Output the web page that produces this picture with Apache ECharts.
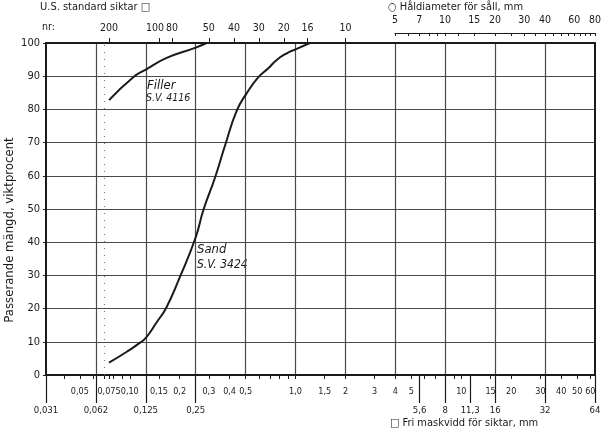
<!DOCTYPE html>
<html>
<head>
<meta charset="utf-8">
<script src="https://cdn.jsdelivr.net/npm/echarts@6/dist/echarts.min.js"></script>
<style>
  html, body { margin: 0; padding: 0; background: #fff; }
  #chart { width: 602px; height: 432px; }
</style>
</head>
<body>
<div id="chart"></div>
<script>
// kornfördelning: filler och sand, logaritmisk skala (bas 2)
const gridLineMm = [0.0625, 0.125, 0.25, 0.5, 1, 2, 4, 8, 16, 32];

// nedre skala, rad 1 (närmast axeln)
const nearRowMm = [0.05, 0.075, 0.1, 0.15, 0.2, 0.3, 0.4, 0.5, 1, 1.5, 2, 3, 4, 5, 10, 15, 20, 30, 40, 50, 60];
const nearRowText = ['0,05', '0,075', '0,10', '0,15', '0,2', '0,3', '0,4', '0,5', '1,0', '1,5', '2', '3', '4', '5',
  '10', '15', '20', '30', '40', '50', '60'];
const minorTickMm = [0.04, 0.05, 0.06, 0.07, 0.075, 0.08, 0.09, 0.1, 0.15, 0.2, 0.3, 0.4, 0.5, 0.6, 0.7, 0.8, 0.9,
  1, 1.5, 2, 3, 4, 5, 6, 7, 8, 9, 10, 15, 20, 30, 40, 50, 60];

// nedre skala, rad 2: fri maskvidd för siktar
const farRowMm = [0.03125, 0.0625, 0.125, 0.25, 5.6, 8, 11.3, 16, 32, 64];
const farRowText = ['0,031', '0,062', '0,125', '0,25', '5,6', '8', '11,3', '16', '32', '64'];

// U.S. standard siktar (nr -> mm)
const sieveMm = [0.075, 0.15, 0.18, 0.3, 0.425, 0.6, 0.85, 1.18, 2.0];
const sieveNo = ['200', '{l|100}', '80', '50', '40', '30', '20', '16', '10'];

// håldiameter för såll
const holeMm = [5, 7, 10, 15, 20, 30, 40, 60, 80];
const holeTickMm = [5, 6, 7, 8, 9, 10, 12, 15, 20, 25, 30, 35, 40, 45, 50, 55, 60, 65, 70, 75, 80];

// kurvor
const fillerMm = [0.075, 0.105, 0.125, 0.167, 0.25, 0.29];
const fillerPct = [82.8, 89.7, 92, 95.5, 98.6, 100];
const sandMm = [0.075, 0.096, 0.11, 0.125, 0.145, 0.167, 0.201, 0.25, 0.278, 0.327, 0.376, 0.442, 0.508, 0.597,
  0.685, 0.77, 0.885, 1.0, 1.22];
const sandPct = [3.7, 7, 9, 11.2, 15.8, 20.5, 29.6, 41.5, 49.7, 59.5, 69.2, 79.6, 84.9, 89.7,
  92.4, 94.9, 96.9, 98.1, 100];

const FONT = "'DejaVu Sans Condensed', 'Liberation Sans Narrow', 'DejaVu Sans', sans-serif";
const INK = '#1a1a1a';

function pick(values, texts) {
  return function (v) {
    for (let i = 0; i < values.length; i++) {
      if (Math.abs(values[i] - v) / values[i] < 1e-6) return texts[i];
    }
    return '';
  };
}

function logAxis(extra) {
  return Object.assign({
    type: 'log', logBase: 2, min: 0.03125, max: 64, gridIndex: 0,
    axisLine: { show: false }, axisTick: { show: false }, axisLabel: { show: false },
    splitLine: { show: false }
  }, extra);
}

const chart = echarts.init(document.getElementById('chart'));
const option = {
  animation: false,
  backgroundColor: '#fff',
  textStyle: { fontFamily: FONT, color: INK },
  grid: [
    { left: 46, right: 7, top: 43, bottom: 57, outerBoundsMode: 'none' },
    { left: 395, right: 7, top: 33, height: 1, outerBoundsMode: 'none' }
  ],
  xAxis: [
    logAxis({
      position: 'bottom',
      axisTick: { show: false, customValues: gridLineMm },
      splitLine: { show: true, lineStyle: { color: '#4a4a4a', width: 1.2 } }
    }),
    logAxis({
      position: 'bottom',
      axisLine: { show: true, onZero: false, lineStyle: { color: INK, width: 2 } },
      axisTick: { show: true, customValues: minorTickMm, length: 4, lineStyle: { color: INK, width: 1 } },
      axisLabel: {
        show: true, customValues: nearRowMm, formatter: pick(nearRowMm, nearRowText),
        margin: 12, fontSize: 9, color: INK, fontFamily: FONT
      }
    }),
    logAxis({
      position: 'bottom',
      axisTick: { show: true, customValues: farRowMm, length: 28, lineStyle: { color: INK, width: 1.2 } },
      axisLabel: {
        show: true, customValues: farRowMm, formatter: pick(farRowMm, farRowText),
        margin: 31, fontSize: 9.5, color: INK, fontFamily: FONT
      }
    }),
    logAxis({
      position: 'top',
      axisLine: { show: true, onZero: false, lineStyle: { color: INK, width: 2 } },
      axisTick: { show: true, customValues: sieveMm, length: 5, lineStyle: { color: INK, width: 1 } },
      axisLabel: {
        show: true, customValues: sieveMm, formatter: pick(sieveMm, sieveNo),
        margin: 9, fontSize: 10.5, color: INK, fontFamily: FONT,
        rich: { l: { fontSize: 10.5, fontFamily: FONT, color: INK, padding: [0, 8, 0, 0] } }
      }
    }),
    {
      type: 'log', logBase: 2, min: 5, max: 80, gridIndex: 1, position: 'top',
      axisLine: { show: true, onZero: false, lineStyle: { color: INK, width: 1.2 } },
      axisTick: { show: true, inside: true, customValues: holeTickMm, length: 3, lineStyle: { color: INK } },
      axisLabel: { show: true, customValues: holeMm, margin: 7, fontSize: 10.5, color: INK, fontFamily: FONT },
      splitLine: { show: false }
    }
  ],
  yAxis: [
    {
      type: 'value', gridIndex: 0, min: 0, max: 100, interval: 10,
      axisLine: { show: true, onZero: false, lineStyle: { color: INK, width: 2 } },
      axisTick: { show: true, length: 3, lineStyle: { color: INK } },
      axisLabel: { margin: 6, fontSize: 11, color: INK, fontFamily: FONT },
      splitLine: { show: true, lineStyle: { color: '#4a4a4a', width: 1.2 } }
    },
    {
      type: 'value', gridIndex: 0, min: 0, max: 100, position: 'right',
      axisLine: { show: true, onZero: false, lineStyle: { color: INK, width: 2 } },
      axisTick: { show: false }, axisLabel: { show: false }, splitLine: { show: false }
    },
    { type: 'value', gridIndex: 1, min: 0, max: 1, show: false }
  ],
  series: [
    {
      name: 'Filler S.V. 4116', type: 'line', xAxisIndex: 0, yAxisIndex: 0,
      data: fillerMm.map((d, i) => [d, fillerPct[i]]),
      smooth: 0.5, showSymbol: false, silent: true,
      lineStyle: { color: INK, width: 2 }
    },
    {
      name: 'Sand S.V. 3424', type: 'line', xAxisIndex: 0, yAxisIndex: 0,
      data: sandMm.map((d, i) => [d, sandPct[i]]),
      smooth: 0.5, showSymbol: false, silent: true,
      lineStyle: { color: INK, width: 2 },
      markLine: {
        silent: true, symbol: 'none', label: { show: false },
        lineStyle: { color: '#777', type: [1, 6], width: 1.2 },
        data: [{ xAxis: 0.075 }]
      }
    }
  ],
  graphic: [
    { type: 'text', left: 40, top: 2, style: { text: 'U.S. standard siktar \u25A1', font: '11px ' + FONT, fill: INK } },
    { type: 'text', left: 42, top: 22, style: { text: 'nr:', font: '10.5px ' + FONT, fill: INK } },
    { type: 'text', left: 388, top: 2, style: { text: '\u25CB Håldiameter för såll, mm', font: '11px ' + FONT, fill: INK } },
    { type: 'text', left: 390, top: 418, style: { text: '\u25A1 Fri maskvidd för siktar, mm', font: '11px ' + FONT, fill: INK } },
    { type: 'text', left: 147, top: 79, style: { text: 'Filler', font: 'italic 13px ' + FONT, fill: INK } },
    { type: 'text', left: 146, top: 93, style: { text: 'S.V. 4116', font: 'italic 10.5px ' + FONT, fill: INK } },
    { type: 'text', left: 197, top: 243, style: { text: 'Sand', font: 'italic 13px ' + FONT, fill: INK } },
    { type: 'text', left: 197, top: 259, style: { text: 'S.V. 3424', font: 'italic 12px ' + FONT, fill: INK } },
    {
      type: 'text', x: 10, y: 230, rotation: Math.PI / 2,
      style: { text: 'Passerande mängd, viktprocent', font: '13px ' + FONT, fill: INK, align: 'center', verticalAlign: 'middle' }
    }
  ]
};
chart.setOption(option);
</script>
</body>
</html>
